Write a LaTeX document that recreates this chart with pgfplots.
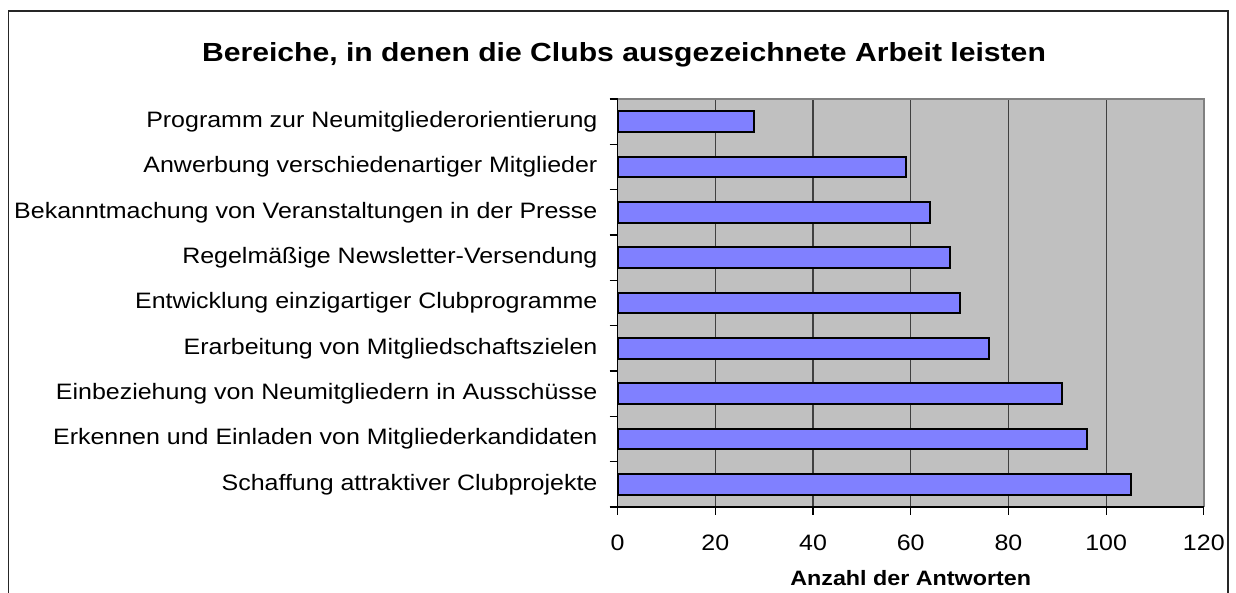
\documentclass[border=0pt]{standalone}
\usepackage{fontspec}
\setmainfont{Liberation Sans}[FakeStretch=1.12]
\newfontfamily\titlefont{Liberation Sans}[FakeStretch=1.15]
\usepackage{pgfplots}
\pgfplotsset{compat=1.18}
\definecolor{barblue}{HTML}{8080FF}
\definecolor{bggray}{HTML}{C0C0C0}
\definecolor{edgegray}{HTML}{808080}
\begin{document}
\begin{tikzpicture}[x=1bp,y=1bp]
\useasboundingbox (0,0) rectangle (1236,593);
\draw[line width=1.5bp, black!85] (8.5,-10) -- (8.5,582) -- (1228,582) -- (1228,-10);
\begin{axis}[
  at={(617.6bp,86bp)}, anchor=south west,
  scale only axis, width=586.2bp, height=408bp,
  xbar, xmin=0, xmax=120, ymin=-0.5, ymax=8.5,
  bar width=0.45,
  axis background/.style={fill=bggray},
  axis line style={draw=none},
  xtick={0,20,...,120},
  xtick pos=bottom, ytick pos=left,
  xmajorgrids,
  major grid style={black!75, line width=1.2bp},
  tick align=outside,
  major tick length=8bp,
  tick style={black, line width=1.2bp},
  ytick={-0.5,0.5,...,8.5}, yticklabels={},
  extra y ticks={0,1,2,3,4,5,6,7,8},
  extra y tick labels={Schaffung attraktiver Clubprojekte,
    Erkennen und Einladen von Mitgliederkandidaten,
    Einbeziehung von Neumitgliedern in Ausschüsse,
    Erarbeitung von Mitgliedschaftszielen,
    Entwicklung einzigartiger Clubprogramme,
    Regelmäßige Newsletter-Versendung,
    Bekanntmachung von Veranstaltungen in der Presse,
    Anwerbung verschiedenartiger Mitglieder,
    Programm zur Neumitgliederorientierung},
  extra y tick style={major tick length=0pt, yticklabel style={inner sep=0pt, xshift=-20bp}},
  tick label style={font=\fontsize{22.3bp}{26bp}\selectfont},
  /pgf/number format/assume math mode=true,
  xticklabel style={inner sep=0pt, yshift=-20bp},
  xlabel={Anzahl der Antworten},
  xlabel style={at={(axis description cs:0.5,0)}, anchor=center, yshift=-71bp, font=\bfseries\fontsize{20.8bp}{24bp}\selectfont},
  clip=false,
]
\addplot[draw=black, line width=2bp, fill=barblue] coordinates {
  (105,0) (96,1) (91,2) (76,3) (70,4) (68,5) (64,6) (59,7) (28,8)};
\draw[edgegray, line width=1.5bp] (axis cs:0,8.5) -- (axis cs:120,8.5) -- (axis cs:120,-0.5);
\draw[black, line width=1.5bp] (axis cs:0,8.5) -- (axis cs:0,-0.5) -- (axis cs:120,-0.5);
\end{axis}
\node[font=\titlefont\bfseries\fontsize{26.2bp}{31bp}\selectfont] at (624,538) {Bereiche, in denen die Clubs ausgezeichnete Arbeit leisten};
\end{tikzpicture}
\end{document}
